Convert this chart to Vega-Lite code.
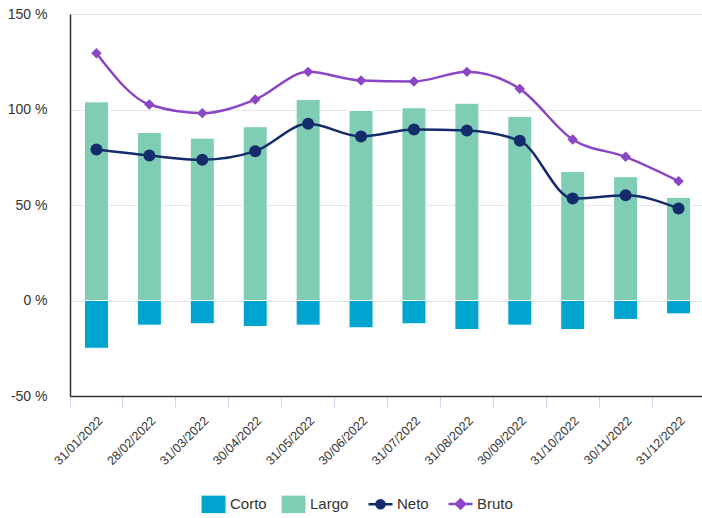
{
  "$schema": "https://vega.github.io/schema/vega-lite/v6.json",
  "autosize": {"type": "none"},
  "width": 635,
  "height": 382,
  "padding": {"left": 70, "top": 14, "right": 0, "bottom": 122},
  "background": "#ffffff",
  "config": {
    "view": {"stroke": null},
    "font": "Liberation Sans",
    "axis": {"labelFont": "Liberation Sans", "labelColor": "#333333", "titleFont": "Liberation Sans"},
    "legend": {"labelFont": "Liberation Sans"}
  },
  "data": {
    "values": [
      {"fecha": "31/01/2022", "serie": "Corto", "valor": -25},
      {"fecha": "31/01/2022", "serie": "Largo", "valor": 104},
      {"fecha": "31/01/2022", "serie": "Neto", "valor": 79},
      {"fecha": "31/01/2022", "serie": "Bruto", "valor": 129.5},
      {"fecha": "28/02/2022", "serie": "Corto", "valor": -12.9},
      {"fecha": "28/02/2022", "serie": "Largo", "valor": 88},
      {"fecha": "28/02/2022", "serie": "Neto", "valor": 75.9},
      {"fecha": "28/02/2022", "serie": "Bruto", "valor": 102.6},
      {"fecha": "31/03/2022", "serie": "Corto", "valor": -12.2},
      {"fecha": "31/03/2022", "serie": "Largo", "valor": 85},
      {"fecha": "31/03/2022", "serie": "Neto", "valor": 73.7},
      {"fecha": "31/03/2022", "serie": "Bruto", "valor": 98.1},
      {"fecha": "30/04/2022", "serie": "Corto", "valor": -13.6},
      {"fecha": "30/04/2022", "serie": "Largo", "valor": 91},
      {"fecha": "30/04/2022", "serie": "Neto", "valor": 78.2},
      {"fecha": "30/04/2022", "serie": "Bruto", "valor": 105.2},
      {"fecha": "31/05/2022", "serie": "Corto", "valor": -12.9},
      {"fecha": "31/05/2022", "serie": "Largo", "valor": 105.2},
      {"fecha": "31/05/2022", "serie": "Neto", "valor": 92.5},
      {"fecha": "31/05/2022", "serie": "Bruto", "valor": 119.7},
      {"fecha": "30/06/2022", "serie": "Corto", "valor": -14.3},
      {"fecha": "30/06/2022", "serie": "Largo", "valor": 99.5},
      {"fecha": "30/06/2022", "serie": "Neto", "valor": 85.9},
      {"fecha": "30/06/2022", "serie": "Bruto", "valor": 115.2},
      {"fecha": "31/07/2022", "serie": "Corto", "valor": -12.2},
      {"fecha": "31/07/2022", "serie": "Largo", "valor": 100.9},
      {"fecha": "31/07/2022", "serie": "Neto", "valor": 89.5},
      {"fecha": "31/07/2022", "serie": "Bruto", "valor": 114.7},
      {"fecha": "31/08/2022", "serie": "Corto", "valor": -15.2},
      {"fecha": "31/08/2022", "serie": "Largo", "valor": 103.3},
      {"fecha": "31/08/2022", "serie": "Neto", "valor": 89},
      {"fecha": "31/08/2022", "serie": "Bruto", "valor": 119.7},
      {"fecha": "30/09/2022", "serie": "Corto", "valor": -12.9},
      {"fecha": "30/09/2022", "serie": "Largo", "valor": 96.3},
      {"fecha": "30/09/2022", "serie": "Neto", "valor": 83.6},
      {"fecha": "30/09/2022", "serie": "Bruto", "valor": 110.8},
      {"fecha": "31/10/2022", "serie": "Corto", "valor": -15.2},
      {"fecha": "31/10/2022", "serie": "Largo", "valor": 67.5},
      {"fecha": "31/10/2022", "serie": "Neto", "valor": 53.4},
      {"fecha": "31/10/2022", "serie": "Bruto", "valor": 84.3},
      {"fecha": "30/11/2022", "serie": "Corto", "valor": -9.9},
      {"fecha": "30/11/2022", "serie": "Largo", "valor": 64.8},
      {"fecha": "30/11/2022", "serie": "Neto", "valor": 55.1},
      {"fecha": "30/11/2022", "serie": "Bruto", "valor": 75.2},
      {"fecha": "31/12/2022", "serie": "Corto", "valor": -7},
      {"fecha": "31/12/2022", "serie": "Largo", "valor": 54},
      {"fecha": "31/12/2022", "serie": "Neto", "valor": 48.2},
      {"fecha": "31/12/2022", "serie": "Bruto", "valor": 62.5}
    ]
  },
  "encoding": {
    "x": {
      "field": "fecha",
      "type": "ordinal",
      "sort": null,
      "title": null,
      "scale": {"paddingInner": 0, "paddingOuter": 0},
      "axis": {
        "bandPosition": 0,
        "labelOffset": 0,
        "labelAngle": -45,
        "labelFontSize": 12.5,
        "labelPadding": 7,
        "domainColor": "#333333",
        "domainWidth": 1.5,
        "tickColor": "#ccd6eb",
        "tickSize": 11,
        "grid": false
      }
    },
    "y": {
      "field": "valor",
      "type": "quantitative",
      "title": null,
      "scale": {"domain": [-50, 150], "nice": false},
      "axis": {
        "values": [-50, 0, 50, 100, 150],
        "labelExpr": "datum.value + ' %'",
        "labelFontSize": 14,
        "ticks": false,
        "tickSize": 0,
        "labelPadding": 23,
        "domainColor": "#333333",
        "domainWidth": 1.5,
        "gridColor": "#e6e6e6",
        "gridWidth": 1
      }
    },
    "color": {
      "field": "serie",
      "type": "nominal",
      "scale": {
        "domain": ["Corto", "Largo", "Neto", "Bruto"],
        "range": ["#00a5cf", "#7fcdb4", "#142c6b", "#8b46c5"]
      },
      "legend": {
        "title": null,
        "orient": "none",
        "direction": "horizontal",
        "legendX": 136,
        "legendY": 482,
        "padding": 0,
        "columnPadding": 14,
        "labelFontSize": 15,
        "labelColor": "#333333",
        "labelOffset": 9,
        "symbolSize": 576,
        "encode": {
          "symbols": {
            "update": {
              "shape": {"signal": "datum.value === 'Corto' || datum.value === 'Largo' ? 'M-1,-0.73H1V0.73H-1Z' : datum.value === 'Neto' ? 'M-1,0H-0.34A0.34,0.34 0 1,1 0.34,0A0.34,0.34 0 1,1 -0.34,0M0.34,0H1' : 'M-1,0H-0.38L0,-0.38L0.38,0L0,0.38L-0.38,0M0.38,0H1'"},
              "size": {"value": 576},
              "fill": {"signal": "datum.value === 'Corto' ? '#00a5cf' : datum.value === 'Largo' ? '#7fcdb4' : datum.value === 'Neto' ? '#142c6b' : '#8b46c5'"},
              "stroke": {"signal": "datum.value === 'Corto' ? '#00a5cf' : datum.value === 'Largo' ? '#7fcdb4' : datum.value === 'Neto' ? '#142c6b' : '#8b46c5'"},
              "strokeWidth": {"signal": "datum.value === 'Corto' || datum.value === 'Largo' ? 0 : 2.5"},
              "opacity": {"value": 1},
              "fillOpacity": {"value": 1}
            }
          }
        }
      }
    }
  },
  "layer": [
    {
      "transform": [{"filter": "datum.serie === 'Corto' || datum.serie === 'Largo'"}],
      "mark": {"type": "bar", "width": 24, "stroke": "#ffffff", "strokeWidth": 1}
    },
    {
      "transform": [{"filter": "datum.serie === 'Neto' || datum.serie === 'Bruto'"}],
      "mark": {"type": "line", "interpolate": "monotone", "strokeWidth": 2.5}
    },
    {
      "transform": [{"filter": "datum.serie === 'Neto'"}],
      "mark": {"type": "point", "shape": "circle", "filled": true, "opacity": 1, "size": 144}
    },
    {
      "transform": [{"filter": "datum.serie === 'Bruto'"}],
      "mark": {"type": "point", "shape": "diamond", "filled": true, "opacity": 1, "size": 110}
    }
  ]
}
